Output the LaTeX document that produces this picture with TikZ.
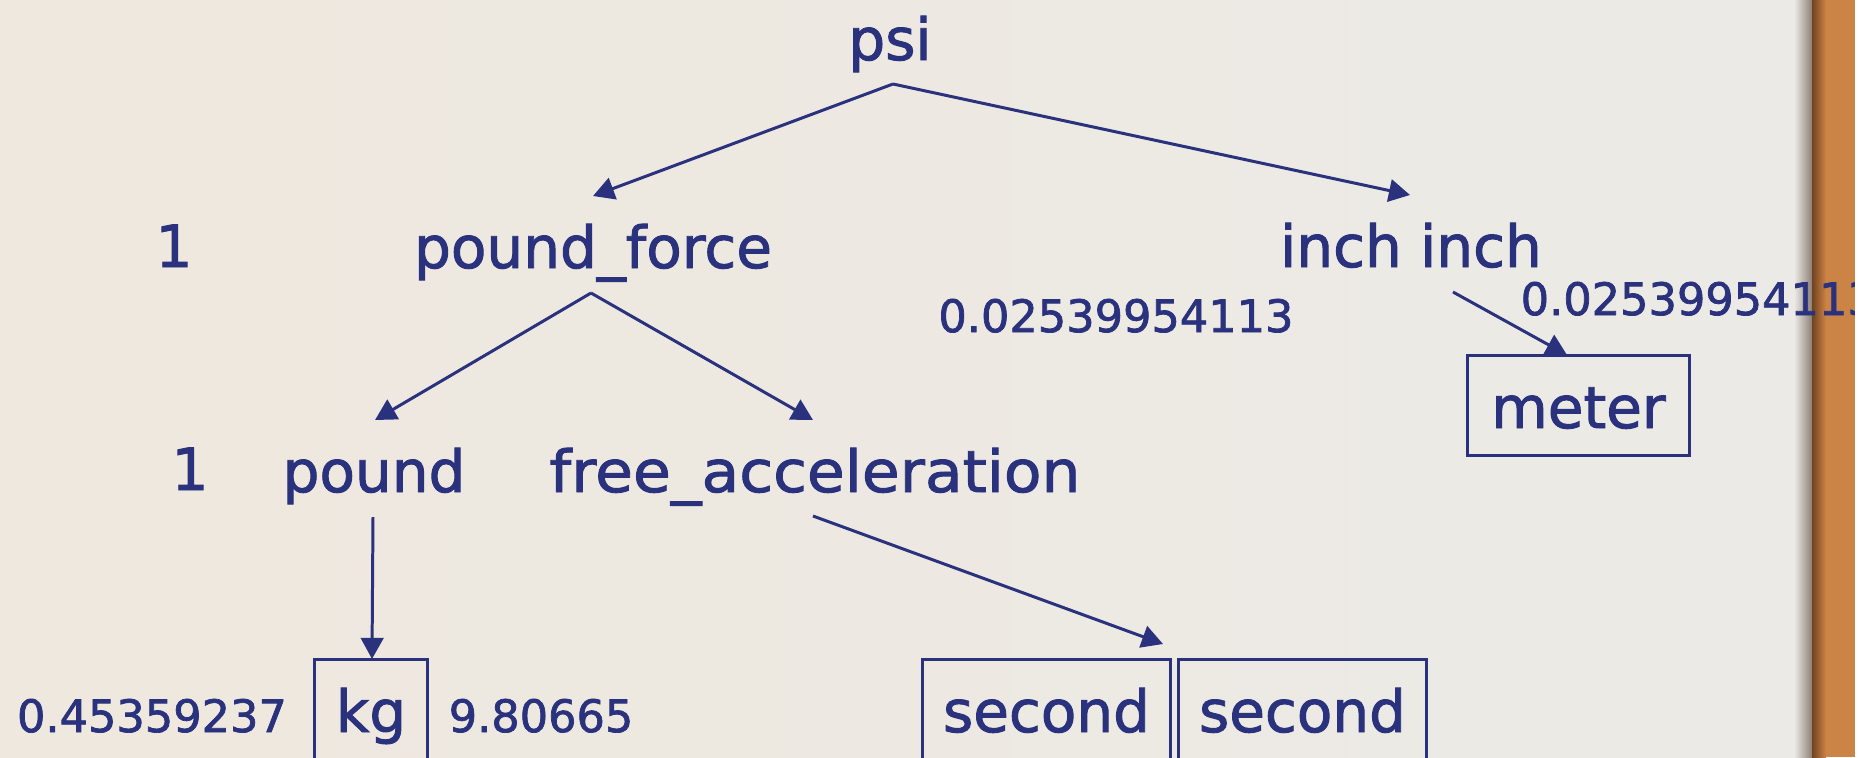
\documentclass[tikz,border=0pt]{standalone}
\usepackage{fontspec}
\setmainfont{DejaVu Sans}
\newfontfamily\inkfont{DejaVu Sans}[FakeBold=1.6]
\usetikzlibrary{arrows.meta}
\definecolor{ink}{RGB}{42,49,125}
\definecolor{paperL}{RGB}{238,232,222}
\definecolor{paperR}{RGB}{236,234,230}
\definecolor{woodDark}{RGB}{112,66,32}
\definecolor{wood}{RGB}{204,132,70}
\definecolor{woodShade}{RGB}{140,128,118}

\begin{document}
\begin{tikzpicture}[x=0.01cm, y=-0.01cm,
  word/.style={text=ink, font=\inkfont\fontsize{16.5}{18}\selectfont, inner sep=0pt, anchor=base},
  num/.style={text=ink, font=\inkfont\fontsize{12.7}{14}\selectfont, inner sep=0pt, anchor=base},
  unitbox/.style={draw=ink, line width=0.85pt, text=ink, font=\inkfont\fontsize{16.5}{18}\selectfont,
    inner sep=0pt, minimum height=28.2pt, text height=12.8pt, text depth=0pt},
  link/.style={draw=ink, line width=0.85pt, -{Triangle[length=6pt,width=6.4pt]}}]

\useasboundingbox (0,0) rectangle (1875,757);
\clip (0,0) rectangle (1875,757);

% paper and the wooden frame edge
\shade[left color=paperL, right color=paperR] (0,0) rectangle (1795,757);
\shade[left color=paperR, right color=woodShade] (1794,0) rectangle (1812,757);
\shade[left color=woodDark, right color=wood] (1812,0) rectangle (1826,757);
\fill[wood] (1826,0) rectangle (1855,757);

% unit tree
\node[word] (psi) at (890,60) {psi};
\node[word] (oneA) at (174,267) {1};
\node[word] (pforce) at (593,268) {pound\_force};
\node[word] (inch) at (1411,267) {inch inch};
\node[num] (convA) at (1116,332) {0.02539954113};
\node[num, anchor=base west] (convB) at (1520,315) {0.02539954113};
\node[unitbox, minimum width=63.4pt] (meter) at (1578.5,405.5) {meter};
\node[word] (oneB) at (190,490) {1};
\node[word] (pound) at (374,492) {pound};
\node[word] (freeacc) at (815,492) {\addfontfeature{FakeStretch=1.06}free\_acceleration};
\node[unitbox, minimum width=31.9pt] (kg) at (371,709.5) {kg};
\node[num] (convC) at (152,732) {0.45359237};
\node[num, anchor=base west] (convD) at (448,732) {9.80665};
\node[unitbox, minimum width=70.3pt] (secA) at (1046.5,709.5) {second};
\node[unitbox, minimum width=70.3pt] (secB) at (1302.5,709.5) {second};

% connector ends
\coordinate (psiOut) at (893,84);
\coordinate (pforceIn) at (593,196);
\coordinate (inchIn) at (1410,195);
\coordinate (pforceOut) at (591,293);
\coordinate (poundIn) at (375,420);
\coordinate (freeaccIn) at (813,420);
\coordinate (inchOut) at (1453,292);
\coordinate (meterIn) at (1567,355);
\coordinate (poundOut) at (373,517);
\coordinate (kgIn) at (372,659);
\coordinate (freeaccOut) at (813,516);
\coordinate (secIn) at (1163,644);

\draw[link] (psiOut) -- (pforceIn);
\draw[link] (psiOut) -- (inchIn);
\draw[link] (pforceOut) -- (poundIn);
\draw[link] (pforceOut) -- (freeaccIn);
\draw[link] (inchOut) -- (meterIn);
\draw[link] (poundOut) -- (kgIn);
\draw[link] (freeaccOut) -- (secIn);

% blank margin beyond the frame
\fill[white] (1855,0) rectangle (1875,757);
\end{tikzpicture}
\end{document}
